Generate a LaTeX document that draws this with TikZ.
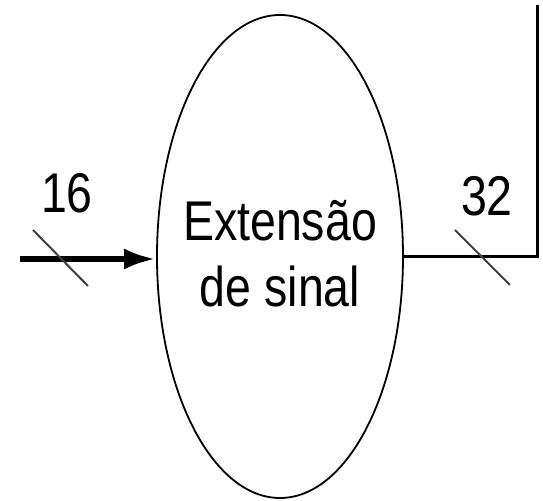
\documentclass[tikz,border=0pt]{standalone}
\usepackage{fontspec}
\setmainfont{Liberation Sans}
\usepackage{graphicx}
\usepackage{tikz}
\usetikzlibrary{arrows.meta,positioning,shapes.geometric}

\newcommand{\narrow}[1]{\scalebox{0.83}[1]{#1}}

\begin{document}
\begin{tikzpicture}[x=0.5pt, y=-0.5pt,
  every node/.style={font=\fontsize{28}{33}\selectfont, inner sep=0pt},
  busmark/.style={line width=1pt, black!75},
  wire/.style={line width=1.5pt}]
  \useasboundingbox (0,0) rectangle (543,501);

  % Sign extension unit
  \node[ellipse, draw, line width=0.9pt, minimum width=123pt, minimum height=241.5pt]
        (ext) at (280,256.5) {};
  \node[align=center] (extlabel) at (280,254) {\narrow{Extensão}\\[0pt]\narrow{de sinal}};

  % Input (16 bits)
  \coordinate (in) at (20,259);
  \draw[line width=3pt, -{Latex[length=16pt, width=10.5pt]}] (in) -- (in -| ext.west);
  \coordinate (m1) at (60,258);
  \draw[busmark] ([shift={(-27,-28)}]m1) -- ([shift={(28,28)}]m1);
  \node (n16) at (67,193) {\narrow{16}};

  % Output (32 bits)
  \coordinate (corner) at (538,257);
  \coordinate (top) at (538,5);
  \draw[wire] (ext.east |- corner) -- (corner) -- (top);
  \coordinate (m2) at (482,257);
  \draw[busmark] ([shift={(-27,-27)}]m2) -- ([shift={(28,28)}]m2);
  \node (n32) at (487,196) {\narrow{32}};
\end{tikzpicture}
\end{document}
